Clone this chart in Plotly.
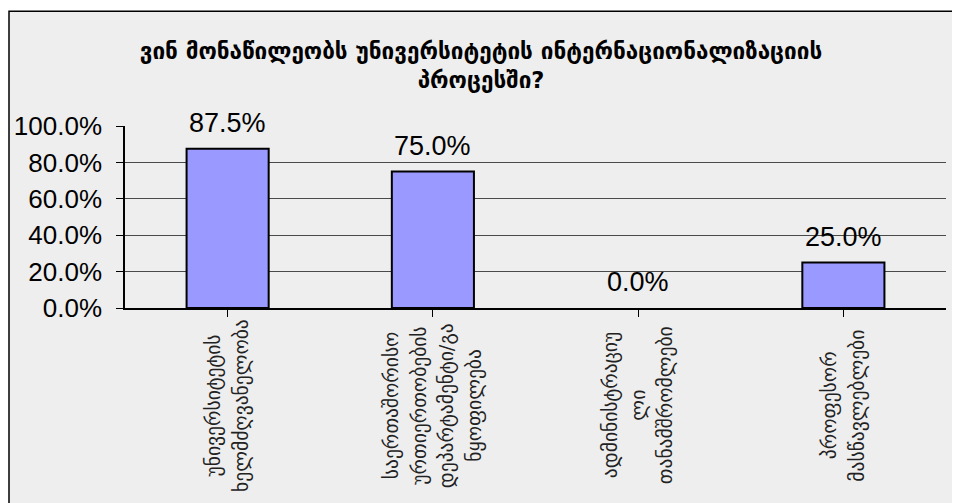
import plotly.graph_objects as go

categories = [
    ["უნივერსიტეტის", "ხელმძღვანელობა"],
    ["საერთაშორისო", "ურთიერთობების", "დეპარტამენტი/გა", "ნყოფილება"],
    ["ადმინისტრაციუ", "ლი", "თანამშრომლები"],
    ["პროფესორ", "მასწავლებლები"],
]
values = [0.875, 0.75, 0.0, 0.25]
value_labels = ["87.5%", "75.0%", "0.0%", "25.0%"]
y_ticks = [0, 0.2, 0.4, 0.6, 0.8, 1.0]
y_tick_labels = ["0.0%", "20.0%", "40.0%", "60.0%", "80.0%", "100.0%"]
title_text = "ვინ მონაწილეობს უნივერსიტეტის ინტერნაციონალიზაციის<br>პროცესში?"

# page body has an 8px default margin; work in screen px and shift
OFF = 8
W, H = 960 - OFF, 503 - OFF
L, R, T, B = 125 - OFF, 946 - OFF, 125.5 - OFF, 308.5 - OFF
pw, ph = R - L, B - T

def px_x(px):
    return (px - OFF - L) / pw

def px_y(py):
    return (B - (py - OFF)) / ph

xs = list(range(len(categories)))

fig = go.Figure()
fig.add_trace(go.Bar(
    x=xs, y=values, width=0.40,
    marker=dict(color="#9999FF",
                line=dict(color="black", width=[2 if v > 0 else 0 for v in values])),
    hoverinfo="skip",
))

annotations = []
for x, v, t in zip(xs, values, value_labels):
    annotations.append(dict(
        x=x, y=v, xref="x", yref="y", text=t, showarrow=False,
        yanchor="middle", xanchor="center", yshift=26,
        font=dict(family="Liberation Sans, Arial", size=27, color="black"),
    ))
LINE_GAP = 27.5
LABEL_CENTER = 406  # screen y of the centre of the rotated label block
for x, lines in zip(xs, categories):
    n = len(lines)
    for i, line in enumerate(lines):
        annotations.append(dict(
            x=x, y=0, xref="x", yref="paper", text=line, showarrow=False,
            textangle=-90, yanchor="middle", xanchor="center",
            xshift=(i - (n - 1) / 2) * LINE_GAP,
            yshift=-(LABEL_CENTER - 308.5),
            font=dict(family="DejaVu Sans", size=19.5, color="#222222"),
        ))

fig.update_layout(
    width=W, height=H,
    margin=dict(l=L, r=W - R, t=T, b=H - B, pad=0, autoexpand=False),
    paper_bgcolor="white",
    plot_bgcolor="rgba(0,0,0,0)",
    showlegend=False,
    title=dict(
        text=title_text, x=(481 - OFF) / W, xanchor="center",
        y=1 - (59 - OFF) / H, yanchor="middle",
        font=dict(family="DejaVu Sans", size=22.5, color="black", weight="bold"),
    ),
    xaxis=dict(
        range=[-0.5, 3.5], showline=True, linecolor="black", linewidth=1.5,
        ticks="outside", ticklen=7, tickcolor="black", tickson="boundaries",
        tickvals=xs, showticklabels=False, showgrid=False, zeroline=False,
        fixedrange=True, automargin=False,
    ),
    yaxis=dict(
        range=[0, 1.0001], tickvals=y_ticks, ticktext=y_tick_labels,
        showline=True, linecolor="black", linewidth=1.5,
        ticks="outside", ticklen=7, tickcolor="black",
        showgrid=True, gridcolor="#4a4a4a", gridwidth=1, zeroline=False,
        tickfont=dict(family="Liberation Sans, Arial", size=26, color="black"),
        ticklabelstandoff=9, fixedrange=True, automargin=False,
    ),
    annotations=annotations,
    shapes=[dict(
        type="rect", xref="paper", yref="paper",
        x0=px_x(9), x1=px_x(1000), y0=px_y(560), y1=px_y(10),
        fillcolor="#EEEEEE", line=dict(color="black", width=1.5), layer="below",
    )],
)

fig.write_html("out.html")
